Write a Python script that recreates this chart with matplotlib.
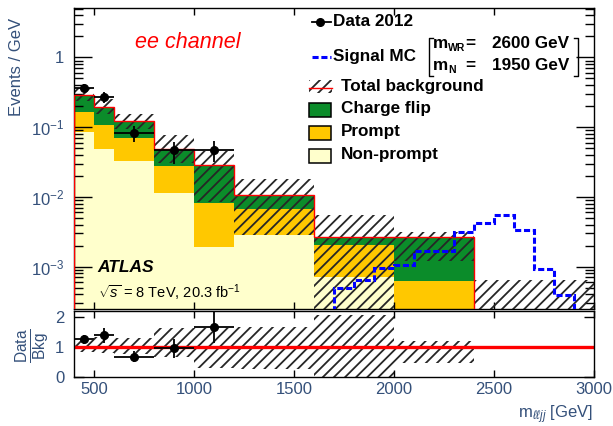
import numpy as np
import matplotlib
matplotlib.use("Agg")
import matplotlib.pyplot as plt
from matplotlib.patches import Rectangle
from matplotlib.lines import Line2D
from matplotlib.ticker import FixedLocator, FuncFormatter, LogLocator, NullFormatter, NullLocator

plt.rcParams['font.family'] = ['Liberation Sans', 'DejaVu Sans']
plt.rcParams['mathtext.fontset'] = 'custom'
plt.rcParams['mathtext.rm'] = 'Liberation Sans'
plt.rcParams['mathtext.it'] = 'Liberation Sans:italic'
plt.rcParams['mathtext.bf'] = 'Liberation Sans:bold'
plt.rcParams['hatch.linewidth'] = 1.3

# ---------------- data ----------------
edges = [400, 500, 600, 800, 1000, 1200, 1600, 2000, 2400, 3000]
nonprompt = [0.0843, 0.0488, 0.0325, 0.0113, 0.00192, 0.00282, 0.00070, 0.0, 0.0]
prompt = [0.0787, 0.0582, 0.0375, 0.0160, 0.00624, 0.00381, 0.00133, 0.00063, 0.0]
chargeflip = [0.128, 0.085, 0.051, 0.0207, 0.0200, 0.00407, 0.00058, 0.00198, 0.0]
bkg_up = [0.36, 0.253, 0.155, 0.078, 0.046, 0.0178, 0.0054, 0.00316, 0.00065]
bkg_down = [0.24, 0.155, 0.094, 0.031, 0.0085, 0.0028, 0.0, 0.0012, 0.0]

data_x = [450, 550, 700, 900, 1100]
data_xerr = [50, 50, 100, 100, 100]
data_y = [0.366, 0.267, 0.0816, 0.0464, 0.0464]
data_err_up = [0.045, 0.048, 0.023, 0.0142, 0.0162]
data_err_down = [0.05, 0.048, 0.021, 0.0167, 0.0149]

sig_edges = [1700, 1800, 1900, 2000, 2100, 2200, 2300, 2400, 2500, 2600, 2700, 2800, 2900, 3000]
sig_vals = [0.00050, 0.00065, 0.00094, 0.00104, 0.00168, 0.00168, 0.00316,
            0.00425, 0.00545, 0.00335, 0.00091, 0.00039, 0.0001]

# ---------------- derived ----------------
e = np.array(edges, float)
left = e[:-1]
width = np.diff(e)
npv = np.array(nonprompt)
prv = np.array(prompt)
cfv = np.array(chargeflip)
total = npv + prv + cfv
up = np.array(bkg_up)
dn = np.maximum(np.array(bkg_down), 1e-7)

W, H = 613, 426
fig = plt.figure(figsize=(W / 100, H / 100), dpi=100)

def fx(px):
    return px / W

def fy(py):
    return 1 - py / H

ax = fig.add_axes([fx(74), fy(308.5), fx(594) - fx(74), fy(8) - fy(308.5)])
rx = fig.add_axes([fx(74), fy(376.7), fx(594) - fx(74), fy(311) - fy(376.7)])

GREEN = '#0b8c2a'
ORANGE = '#ffc800'
YELLOW = '#ffffcc'
HATCHC = '#262626'
TICKC = '#34507a'
HATCH = '///'

ax.set_yscale('log')
tiny = 1e-7
ax.bar(left, npv, width=width, bottom=tiny, align='edge', color=YELLOW, linewidth=0, zorder=1)
ax.bar(left, prv, width=width, bottom=npv + tiny, align='edge', color=ORANGE, linewidth=0, zorder=1)
ax.bar(left, cfv, width=width, bottom=npv + prv + tiny, align='edge', color=GREEN, linewidth=0, zorder=1)
ax.bar(left, up - dn, width=width, bottom=dn, align='edge', fill=False, hatch=HATCH,
       edgecolor=HATCHC, linewidth=0, zorder=2)
ax.stairs(total[:-1], e[:-1], baseline=tiny, color='red', linewidth=1.0, zorder=3)
ax.stairs(sig_vals, sig_edges, baseline=1e-6, color='#0000ff', linewidth=2.2,
          linestyle=(0, (2.0, 0.9)), zorder=4)
ax.errorbar(data_x, data_y, xerr=data_xerr, yerr=[data_err_down, data_err_up],
            fmt='o', color='black', markersize=5.5, elinewidth=1.3, capsize=0, zorder=5)

ax.set_xlim(400, 3000)
ax.set_ylim(2.5e-4, 5.1)
ax.xaxis.set_major_locator(FixedLocator([500, 1000, 1500, 2000, 2500, 3000]))
ax.xaxis.set_minor_locator(NullLocator())
ax.set_xticklabels([])
ax.yaxis.set_major_locator(LogLocator(base=10, numticks=10))
ax.yaxis.set_minor_locator(LogLocator(base=10, subs=np.arange(2, 10), numticks=20))
ax.yaxis.set_minor_formatter(NullFormatter())

def yfmt(v, pos):
    if abs(v - 1) < 1e-9:
        return '1'
    n = int(round(np.log10(v)))
    return r'$10^{%d}$' % n

ax.yaxis.set_major_formatter(FuncFormatter(yfmt))
ax.tick_params(axis='both', which='both', direction='in', top=True, right=True,
               colors='black', labelcolor=TICKC, labelsize=12)
ax.tick_params(axis='y', which='major', length=13, width=1, pad=7)
ax.tick_params(axis='y', which='minor', length=6.5, width=1)
ax.tick_params(axis='x', which='major', length=5, width=1)
for s in ax.spines.values():
    s.set_linewidth(1.0)

# ---------------- ratio ----------------
nb = len(data_x)
ratio = np.array(data_y) / total[:nb]
r_up = np.array(data_err_up) / total[:nb]
r_dn = np.array(data_err_down) / total[:nb]
valid = total > 0
rup = up[valid] / total[valid]
rdn = dn[valid] / total[valid]
rx.bar(left[valid], rup - rdn, width=width[valid], bottom=rdn, align='edge', fill=False,
       hatch=HATCH, edgecolor=HATCHC, linewidth=0, zorder=1)
rx.axhline(1.0, color='red', linewidth=2.4, zorder=2)
rx.errorbar(data_x, ratio, xerr=data_xerr, yerr=[r_dn, r_up], fmt='o', color='black',
            markersize=5.5, elinewidth=1.3, capsize=0, zorder=5)
rx.set_xlim(400, 3000)
rx.set_ylim(0, 2.2)
rx.xaxis.set_major_locator(FixedLocator([500, 1000, 1500, 2000, 2500, 3000]))
rx.yaxis.set_major_locator(FixedLocator([0, 1, 2]))
rx.tick_params(axis='both', which='both', direction='in', top=True, right=True,
               colors='black', labelcolor=TICKC, labelsize=12)
rx.tick_params(axis='y', which='major', length=7, width=1, pad=7)
rx.tick_params(axis='x', which='major', length=5, width=1, pad=4)
for s in rx.spines.values():
    s.set_linewidth(1.0)

# ---------------- labels ----------------
fig.text(fx(17), fy(67), 'Events / GeV', rotation=90, ha='center', va='center',
         fontsize=12, color=TICKC)
fig.text(fx(33), fy(346), r'$\frac{\mathrm{Data}}{\mathrm{Bkg}}$', rotation=90,
         ha='center', va='center', fontsize=16, color=TICKC)
fig.text(fx(593), fy(415), r'm$_{\ell\ell jj}$ [GeV]', ha='right', va='center',
         fontsize=12, color=TICKC)

fig.text(fx(135), fy(42), 'ee channel', color='red', style='italic', fontsize=15.5,
         ha='left', va='center')
fig.text(fx(97), fy(268), 'ATLAS', fontweight='bold', style='italic', fontsize=12.5,
         ha='left', va='center')
fig.text(fx(98), fy(293), r'$\sqrt{s}$ = 8 TeV, 20.3 fb$^{-1}$', fontsize=10.5,
         ha='left', va='center')

# ---------------- legend ----------------
LF = 12.3
def ltext(x, y, s, size=LF, ha='left'):
    fig.text(fx(x), fy(y), s, fontsize=size, fontweight='bold', ha=ha, va='center')

fig.add_artist(Line2D([fx(312), fx(331)], [fy(21.7), fy(21.7)], color='black', lw=1.3,
                      transform=fig.transFigure))
fig.add_artist(Line2D([fx(320)], [fy(21.7)], color='black', marker='o', markersize=5.5,
                      transform=fig.transFigure))
ltext(333, 21.7, 'Data 2012')

fig.add_artist(Line2D([fx(312), fx(331)], [fy(56.7), fy(56.7)], color='#0000ff', lw=2.2,
                      linestyle=(0, (2.0, 0.9)), transform=fig.transFigure))
ltext(333, 56.7, 'Signal MC')
# bracket
fig.add_artist(Line2D([fx(433), fx(429), fx(429), fx(433)], [fy(37.5), fy(37.5), fy(76), fy(76)],
                      color='black', lw=1.0, transform=fig.transFigure))
fig.add_artist(Line2D([fx(574), fx(578), fx(578), fx(574)], [fy(37.5), fy(37.5), fy(76), fy(76)],
                      color='black', lw=1.0, transform=fig.transFigure))
ltext(433, 43.5, 'm')
ltext(448, 48, 'WR', size=7.5)
ltext(433, 65.5, 'm')
ltext(448, 70, 'N', size=7.5)
ltext(465, 43.5, '=')
ltext(465, 65.5, '=')
ltext(569, 43.5, '2600 GeV', ha='right')
ltext(569, 65.5, '1950 GeV', ha='right')

fig.add_artist(Rectangle((fx(309), fy(93)), fx(332) - fx(309), fy(80) - fy(93), fill=False,
                         hatch=HATCH, edgecolor=HATCHC, linewidth=0, transform=fig.transFigure))
fig.add_artist(Line2D([fx(309), fx(332)], [fy(88), fy(88)], color='red', lw=1.0,
                      transform=fig.transFigure))
ltext(340.7, 86.7, 'Total background')

for (yc, col, lab) in [(110.3, GREEN, 'Charge flip'), (132.7, ORANGE, 'Prompt'),
                       (155.5, YELLOW, 'Non-prompt')]:
    fig.add_artist(Rectangle((fx(309.3), fy(yc + 7)), fx(330.7) - fx(309.3), fy(yc - 7) - fy(yc + 7),
                             facecolor=col, edgecolor='black', linewidth=1.1,
                             transform=fig.transFigure))
    ltext(340.7, yc - 1.5, lab)

fig.savefig('out.png', dpi=100)
